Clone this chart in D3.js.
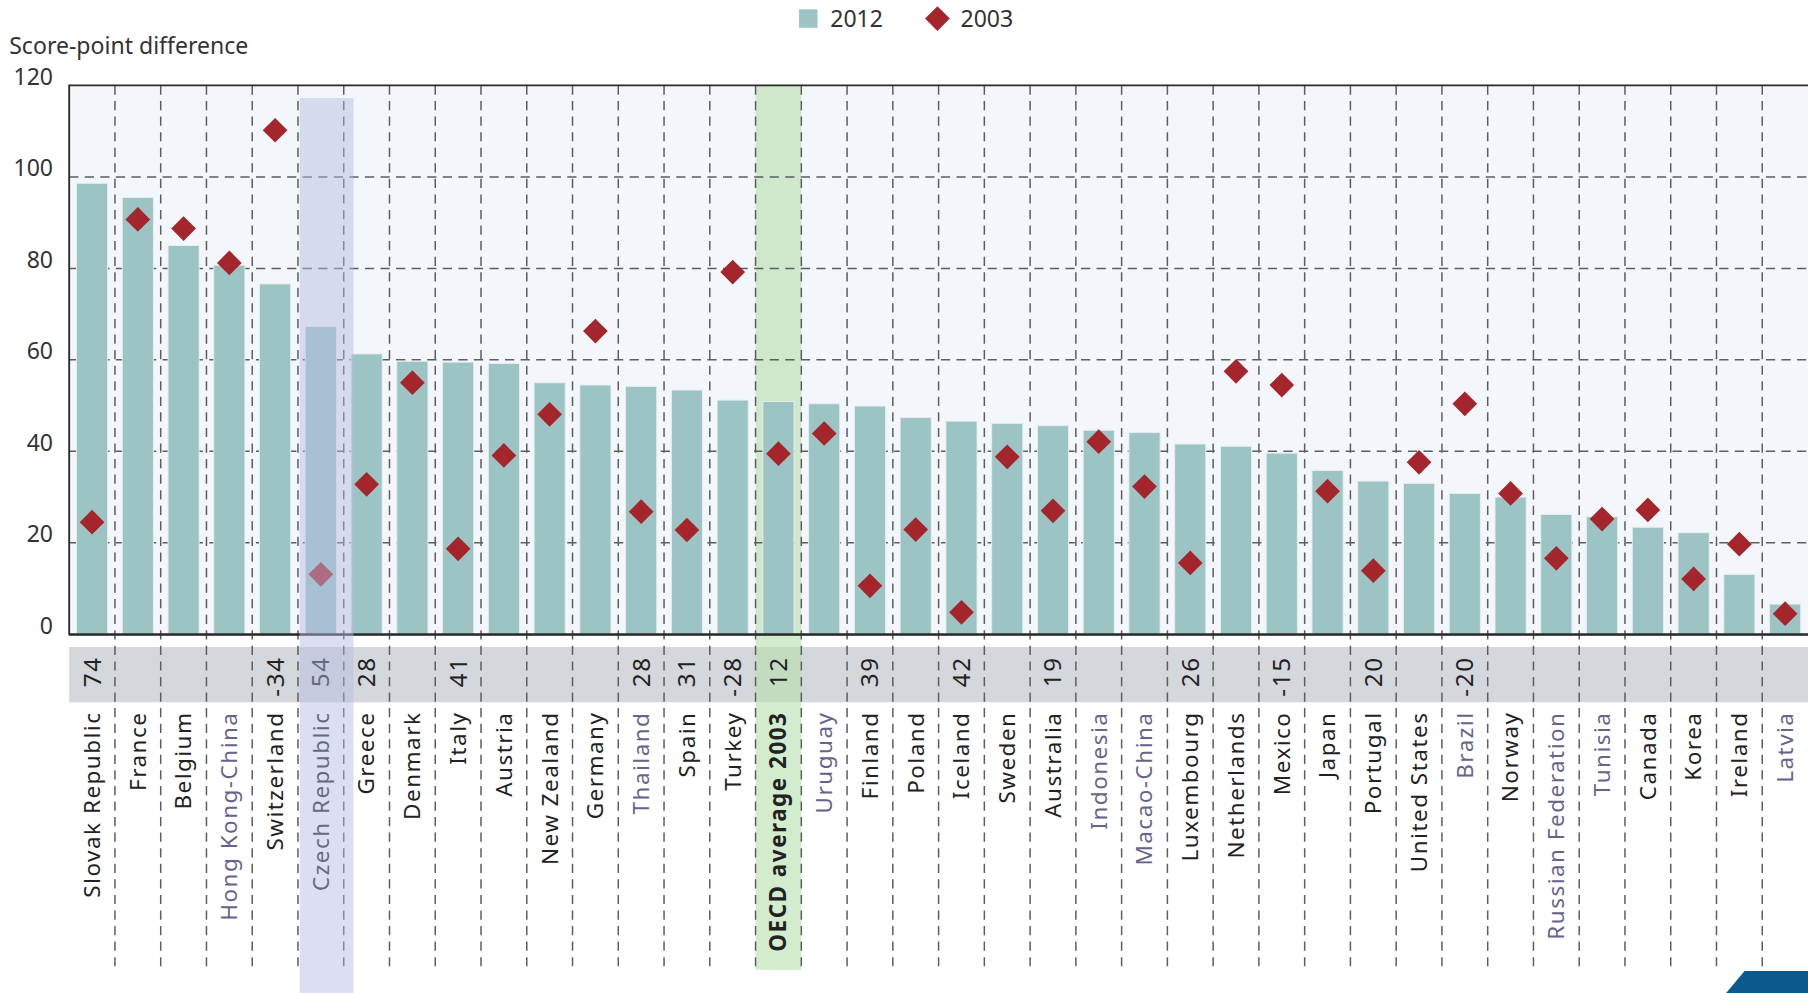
<!DOCTYPE html>
<html>
<head>
<meta charset="utf-8">
<script src="https://cdn.jsdelivr.net/npm/d3@7"></script>
<style>
  body { margin: 0; background: #fff; }
  svg { display: block; }
  text { font-family: "Noto Sans", "Open Sans", sans-serif; }
</style>
</head>
<body>
<div id="chart"></div>
<script>
var countries = ["Slovak Republic", "France", "Belgium", "Hong Kong-China", "Switzerland", "Czech Republic",
  "Greece", "Denmark", "Italy", "Austria", "New Zealand", "Germany", "Thailand", "Spain", "Turkey",
  "OECD average 2003", "Uruguay", "Finland", "Poland", "Iceland", "Sweden", "Australia", "Indonesia",
  "Macao-China", "Luxembourg", "Netherlands", "Mexico", "Japan", "Portugal", "United States", "Brazil",
  "Norway", "Russian Federation", "Tunisia", "Canada", "Korea", "Ireland", "Latvia"];

var values2012 = [98.6, 95.5, 85, 80.7, 76.6, 67.3, 61.3, 59.7, 59.5, 59.2, 55, 54.5, 54.2, 53.4, 51.2,
  50.9, 50.4, 49.9, 47.4, 46.6, 46.1, 45.6, 44.6, 44.1, 41.6, 41.1, 39.6, 35.8, 33.5, 33, 30.8,
  30, 26.2, 25.7, 23.4, 22.2, 13.1, 6.6];

var values2003 = [24.5, 90.7, 88.7, 81.2, 110.2, 13.1, 32.8, 55, 18.7, 39.1, 48.1, 66.3, 26.8, 22.8, 79.2,
  39.5, 43.9, 10.6, 22.9, 4.8, 38.8, 27, 42.1, 32.3, 15.6, 57.5, 54.5, 31.3, 13.9, 37.6, 50.4,
  30.8, 16.6, 25.2, 27.2, 12.1, 19.7, 4.5];

// significant change 2003-2012, blank where not significant
var changeLabels = ["74", "", "", "", "-34", "54", "28", "", "41", "", "", "", "28", "31", "-28",
  "12", "", "39", "", "42", "", "19", "", "", "26", "", "-15", "", "20", "", "-20",
  "", "", "", "", "", "", ""];

var partners = ["Hong Kong-China", "Thailand", "Uruguay", "Indonesia", "Macao-China", "Brazil",
  "Russian Federation", "Tunisia", "Latvia"];

var yTicks = [0, 20, 40, 60, 80, 100, 120];
var gridTicks = [20, 40, 60, 80, 100];
var seriesNames = ["2012", "2003"];

var highlight = "Czech Republic";
var average = "OECD average 2003";

var W = 1568, H = 861;
var pLeft = 60, pRight = 1568, pTop = 74, pBottom = 550;
var linesEnd = 841;

var svg = d3.select("#chart").append("svg")
  .attr("width", 1808)
  .attr("height", 993)
  .attr("viewBox", "0 0 " + W + " " + H);

var xCat = d3.scaleBand().domain(countries).range([pLeft, pRight]).padding(0);
var x = d3.scaleBand().domain(countries).range([pLeft, pRight]).paddingInner(0.32).paddingOuter(0.16);
var y = d3.scaleLinear().domain([0, 120]).range([pBottom, pTop]);
var step = xCat.step();

var data = countries.map(function(c, i) {
  return { name: c, v12: values2012[i], v03: values2003[i], change: changeLabels[i] };
});

// plot background
svg.append("rect")
  .attr("x", pLeft).attr("y", pTop)
  .attr("width", pRight - pLeft).attr("height", pBottom - pTop)
  .style("fill", "#f3f6fa");

// grey band holding the changes
svg.append("rect")
  .attr("x", pLeft).attr("y", 561)
  .attr("width", pRight - pLeft).attr("height", 48)
  .style("fill", "#d4d7db");

// OECD average column
svg.append("rect")
  .attr("x", xCat(average)).attr("y", pTop)
  .attr("width", step).attr("height", linesEnd - pTop)
  .style("fill", "#b7dfae")
  .attr("opacity", 0.6);

// horizontal gridlines
svg.append("g").selectAll("line")
  .data(gridTicks)
  .enter().append("line")
    .attr("x1", pLeft).attr("x2", pRight)
    .attr("y1", function(d) { return y(d); })
    .attr("y2", function(d) { return y(d); })
    .style("stroke", "#5e5e5e")
    .style("stroke-width", 1.3)
    .style("stroke-dasharray", "8,5.5");

// vertical separators
svg.append("g").selectAll("line")
  .data(countries.slice(1))
  .enter().append("line")
    .attr("x1", function(d) { return xCat(d); })
    .attr("x2", function(d) { return xCat(d); })
    .attr("y1", pTop).attr("y2", linesEnd)
    .style("stroke", "#5e5e5e")
    .style("stroke-width", 1.3)
    .style("stroke-dasharray", "8,5.5");

// 2012 bars
svg.append("g").selectAll("rect")
  .data(data)
  .enter().append("rect")
    .attr("x", function(d) { return x(d.name); })
    .attr("y", function(d) { return y(d.v12); })
    .attr("width", x.bandwidth())
    .attr("height", function(d) { return y(0) - y(d.v12); })
    .style("fill", "#9dc4c5")
    .style("stroke", "#e6eeee")
    .style("stroke-width", 0.8);

// 2003 diamonds
var diamond = d3.symbol().type(d3.symbolSquare).size(230);
svg.append("g").selectAll("path")
  .data(data)
  .enter().append("path")
    .attr("d", diamond)
    .attr("transform", function(d) {
      return "translate(" + (x(d.name) + x.bandwidth() / 2) + "," + y(d.v03) + ") rotate(45)";
    })
    .style("fill", "#a4262c");

// frame
svg.append("path")
  .attr("d", "M" + pRight + "," + pTop + "H" + pLeft + "V" + pBottom + "H" + pRight)
  .style("fill", "none")
  .style("stroke", "#2b2b2b")
  .style("stroke-width", 1.6);
svg.append("line")
  .attr("x1", pLeft).attr("x2", pRight)
  .attr("y1", pBottom + 0.5).attr("y2", pBottom + 0.5)
  .style("stroke", "#2b2b2b")
  .style("stroke-width", 1.4);

// y axis
var yAxis = svg.append("g")
  .attr("transform", "translate(46,0)")
  .call(d3.axisLeft(y).tickValues(yTicks).tickSize(0).tickPadding(0));
yAxis.select(".domain").remove();
yAxis.selectAll("text")
  .attr("dy", "-0.05em")
  .style("font-family", "'Noto Sans', sans-serif")
  .style("font-size", "20px")
  .style("fill", "#333");

svg.append("text")
  .attr("x", 8).attr("y", 47)
  .style("font-size", "20px")
  .style("fill", "#333")
  .text("Score-point difference");

// change numbers in the band
svg.append("g").selectAll("text")
  .data(data.filter(function(d) { return d.change !== ""; }))
  .enter().append("text")
    .attr("transform", function(d) {
      return "translate(" + (xCat(d.name) + step / 2) + ",569) rotate(-90)";
    })
    .attr("text-anchor", "end")
    .attr("dy", "0.35em")
    .style("font-size", "21px")
    .style("letter-spacing", "1.5px")
    .style("fill", "#222")
    .text(function(d) { return d.change; });

// country labels
svg.append("g").selectAll("text")
  .data(data)
  .enter().append("text")
    .attr("transform", function(d) {
      return "translate(" + (xCat(d.name) + step / 2) + ",617) rotate(-90)";
    })
    .attr("text-anchor", "end")
    .attr("dy", "0.35em")
    .style("font-size", "19.5px")
    .style("letter-spacing", "1.3px")
    .style("font-weight", function(d) { return d.name == average ? "bold" : "normal"; })
    .style("fill", function(d) { return partners.indexOf(d.name) >= 0 ? "#67648c" : "#222"; })
    .text(function(d) { return d.name; });

// highlighted country overlay
svg.append("rect")
  .attr("x", xCat(highlight) + 1.5).attr("y", 85)
  .attr("width", step + 7).attr("height", H - 85)
  .style("fill", "#b4bce4")
  .attr("opacity", 0.47);

// legend
var legend = svg.append("g");
legend.append("rect")
  .attr("x", 693).attr("y", 8)
  .attr("width", 16).attr("height", 16)
  .style("fill", "#9dc4c5");
legend.append("text")
  .attr("x", 720).attr("y", 23)
  .style("font-size", "20px")
  .style("fill", "#333")
  .text(seriesNames[0]);
legend.append("path")
  .attr("d", diamond)
  .attr("transform", "translate(813,16) rotate(45)")
  .style("fill", "#a4262c");
legend.append("text")
  .attr("x", 833).attr("y", 23)
  .style("font-size", "20px")
  .style("fill", "#333")
  .text(seriesNames[1]);

// page corner mark
svg.append("path")
  .attr("d", "M1497," + H + "L1513,842H" + W + "V" + H + "Z")
  .style("fill", "#0b5a8c");
</script>
</body>
</html>
